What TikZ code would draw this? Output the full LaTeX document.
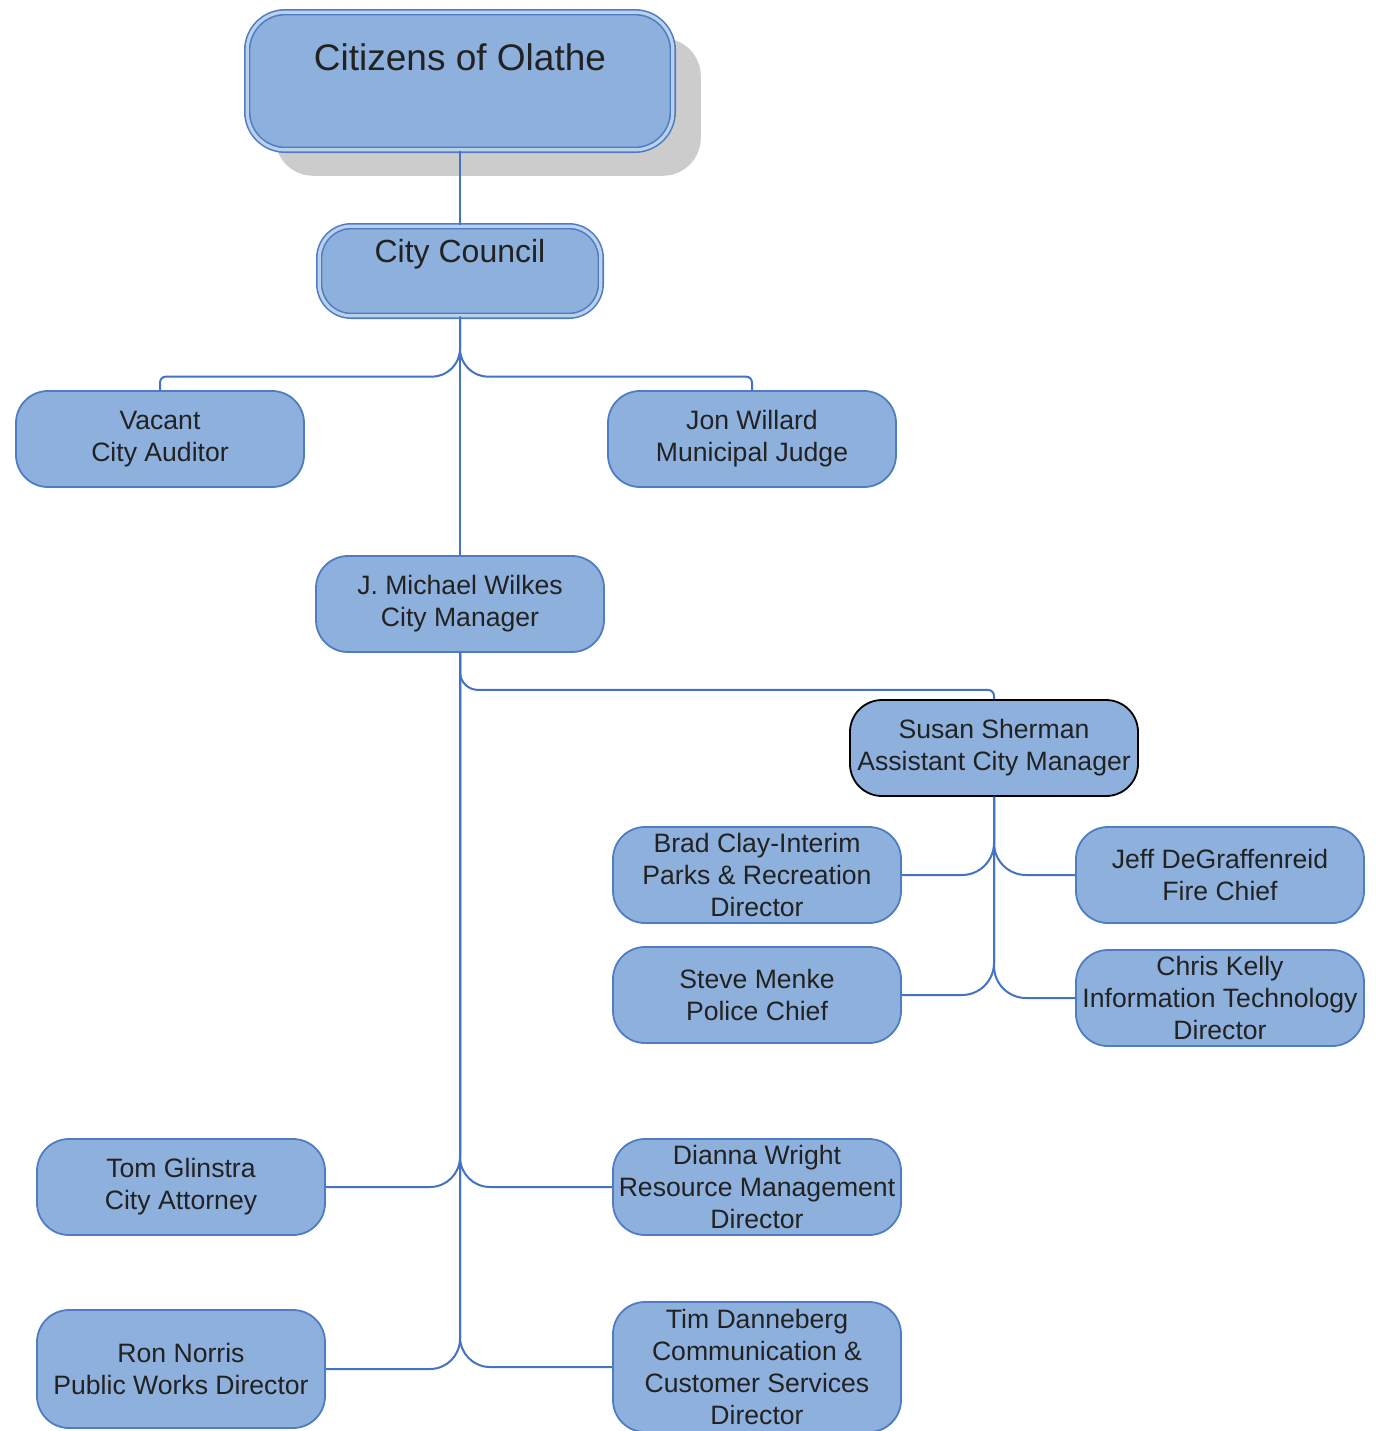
\documentclass[tikz,border=0pt]{standalone}
\usepackage{fontspec}
\setmainfont{Liberation Sans}
\usepackage{xcolor}
\usepackage{tikz}
\usetikzlibrary{positioning, shadows}

\definecolor{boxfill}{RGB}{142,176,220}
\definecolor{boxline}{RGB}{79,125,196}
\definecolor{linkblue}{RGB}{68,114,196}
\definecolor{textgray}{RGB}{34,34,34}

\tikzset{
  person/.style={rectangle, rounded corners=16pt, draw=boxline, line width=0.9pt, fill=boxfill,
    minimum width=144pt, minimum height=48pt, inner sep=0pt, align=center, text=textgray,
    font=\fontsize{13.3}{16}\selectfont},
  board/.style={person, double=boxfill!60!white, double distance=1.6pt, line width=0.8pt,
    minimum width=140.8pt, minimum height=44.8pt},
  link/.style={draw=linkblue, line width=1pt},
}

\begin{document}
\begin{tikzpicture}[x=0.5pt, y=-0.5pt]
\useasboundingbox (0,0) rectangle (1376,1431);

% Ciudadanos y consejo
\node[board, minimum width=212.8pt, minimum height=68.8pt, rounded corners=19pt,
  general shadow={fill=black!20, shadow xshift=14pt, shadow yshift=-13pt}] (citizens) at (460,81) {};
\node[anchor=base, text=textgray, font=\fontsize{18.5}{22}\selectfont] (citizenslbl) at (460,70) {Citizens of Olathe};
\node[board] (council) at (460,271) {};
\node[anchor=base, text=textgray, font=\fontsize{16}{19}\selectfont] (councillbl) at (460,262) {City Council};

% Cargos
\node[person] (auditor) at (160,439) {Vacant\\City Auditor};
\node[person] (judge) at (752,439) {Jon Willard\\Municipal Judge};
\node[person] (manager) at (460,604) {J. Michael Wilkes\\City Manager};
\node[person, draw=black] (asst) at (994,748) {Susan Sherman\\Assistant City Manager};
\node[person] (parks) at (757,875) {Brad Clay-Interim\\Parks \& Recreation\\Director};
\node[person] (fire) at (1220,875) {Jeff DeGraffenreid\\Fire Chief};
\node[person] (police) at (757,995) {Steve Menke\\Police Chief};
\node[person] (infotech) at (1220,998) {Chris Kelly\\Information Technology\\Director};
\node[person] (attorney) at (181,1187) {Tom Glinstra\\City Attorney};
\node[person] (resource) at (757,1187) {Dianna Wright\\Resource Management\\Director};
\node[person, minimum height=59pt] (works) at (181,1369) {Ron Norris\\Public Works Director};
\node[person, minimum height=65pt] (comm) at (757,1367) {Tim Danneberg\\Communication \&\\Customer Services\\Director};

% Lineas
\draw[link] (citizens.south) -- (council.north);
\draw[link] (council.south) -- (manager.north);
\draw[link] (council.south) [rounded corners=14pt] -- ++(0,60) [rounded corners=3pt] -| (auditor.north);
\draw[link] (council.south) [rounded corners=14pt] -- ++(0,60) [rounded corners=3pt] -| (judge.north);
\draw[link] (manager.south) [rounded corners=9pt] -- ++(0,37) [rounded corners=3pt] -| (asst.north);
\draw[link, rounded corners=15pt] (manager.south) |- (attorney.east);
\draw[link, rounded corners=15pt] (manager.south) |- (resource.west);
\draw[link, rounded corners=15pt] (manager.south) |- (works.east);
\draw[link, rounded corners=15pt] (manager.south) |- (comm.west);
\draw[link, rounded corners=16pt] (asst.south) |- (parks.east);
\draw[link, rounded corners=16pt] (asst.south) |- (fire.west);
\draw[link, rounded corners=16pt] (asst.south) |- (police.east);
\draw[link, rounded corners=16pt] (asst.south) |- (infotech.west);
\end{tikzpicture}
\end{document}
